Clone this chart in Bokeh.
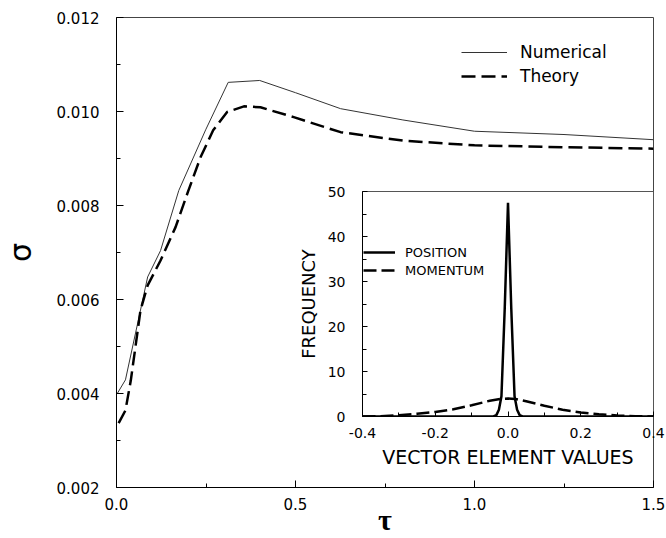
from bokeh.plotting import figure
from bokeh.models import Range1d, FixedTicker, PrintfTickFormatter, Legend
from bokeh.embed import file_html
from bokeh.resources import INLINE

# ---- main chart data ----
tau_num = [0.003, 0.025, 0.087, 0.123, 0.174, 0.249, 0.312, 0.40, 0.50, 0.626, 0.80, 1.0, 1.25, 1.5]
sigma_num = [0.00401, 0.00429, 0.00648, 0.00704, 0.00832, 0.00961, 0.01062, 0.01066, 0.0104,
             0.01006, 0.00982, 0.00958, 0.00951, 0.0094]
tau_th = [0.006, 0.025, 0.04, 0.067, 0.087, 0.123, 0.165, 0.2, 0.235, 0.27, 0.309, 0.356,
          0.402, 0.495, 0.626, 0.8, 1.0, 1.25, 1.5]
sigma_th = [0.00337, 0.00364, 0.00428, 0.00577, 0.0063, 0.00683, 0.00754, 0.0083, 0.00903,
            0.0096, 0.00999, 0.01011, 0.01009, 0.00988, 0.00956, 0.00938, 0.00928, 0.00924, 0.00921]
main_x_ticks = [0.0, 0.5, 1.0, 1.5]
main_x_minor = [0.25, 0.75, 1.25]
main_y_ticks = [0.002, 0.004, 0.006, 0.008, 0.010, 0.012]
main_y_minor = [0.003, 0.005, 0.007, 0.009, 0.011]

# ---- inset data ----
pos_x = [-0.4, -0.04, -0.032, -0.025, -0.018, -0.009, 0.0, 0.009, 0.018, 0.025, 0.032, 0.04, 0.4]
pos_freq = [0, 0, 0.3, 1.5, 4.5, 24, 47.5, 24, 4.5, 1.5, 0.3, 0, 0]
mom_x = [-0.4, -0.35, -0.3, -0.25, -0.2, -0.15, -0.1, -0.05, -0.02, 0.0, 0.02, 0.05, 0.1,
         0.15, 0.2, 0.25, 0.3, 0.35, 0.4]
mom_freq = [0, 0.05, 0.3, 0.6, 1.0, 1.6, 2.5, 3.5, 3.9, 4.0, 3.9, 3.4, 2.4, 1.5, 0.9, 0.5,
            0.25, 0.05, 0]
inset_x_ticks = [-0.4, -0.2, 0.0, 0.2, 0.4]
inset_x_minor = [-0.3, -0.1, 0.1, 0.3]
inset_y_ticks = [0, 10, 20, 30, 40, 50]
inset_y_minor = [5, 15, 25, 35, 45]

FONT = "DejaVu Sans"


def style_axes(fig, tick_size, maj_in, min_in):
    for ax in (fig.xaxis[0], fig.yaxis[0]):
        ax.major_tick_in = maj_in
        ax.major_tick_out = 0
        ax.minor_tick_in = min_in
        ax.minor_tick_out = 0
        ax.axis_line_color = "black"
        ax.major_tick_line_color = "black"
        ax.minor_tick_line_color = "black"
        ax.major_label_text_font = FONT
        ax.major_label_text_font_size = tick_size
        ax.major_label_text_color = "black"
        ax.axis_label_text_color = "black"
        ax.axis_label_text_font_style = "normal"
    fig.xgrid.visible = False
    fig.ygrid.visible = False


# ---------------- main figure ----------------
p = figure(width=672, height=530, x_range=Range1d(0, 1.5), y_range=Range1d(0.002, 0.012),
           output_backend="svg", toolbar_location=None,
           min_border_left=122, min_border_right=13, min_border_top=9, min_border_bottom=51)
p.outline_line_color = "#444444"
style_axes(p, "15px", 7, 4)
p.xaxis.ticker = FixedTicker(ticks=main_x_ticks, minor_ticks=main_x_minor)
p.yaxis.ticker = FixedTicker(ticks=main_y_ticks, minor_ticks=main_y_minor)
p.xaxis.formatter = PrintfTickFormatter(format="%.1f")
p.yaxis.formatter = PrintfTickFormatter(format="%.3f")
p.xaxis.major_label_standoff = 10
p.yaxis.major_label_standoff = 17

p.yaxis.axis_label = "σ"
p.yaxis.axis_label_text_font = FONT
p.yaxis.axis_label_text_font_size = "30px"
p.yaxis.axis_label_standoff = 16
p.xaxis.axis_label = "τ"
p.xaxis.axis_label_text_font = "Liberation Serif"
p.xaxis.axis_label_text_font_size = "30px"
p.xaxis.axis_label_text_font_style = "bold"
p.xaxis.axis_label_standoff = -10

r_num = p.line(tau_num, sigma_num, line_color="#333333", line_width=1)
r_th = p.line(tau_th, sigma_th, line_color="black", line_width=2.5, line_dash="14 6")

leg = Legend(items=[("Numerical", [r_num]), ("Theory", [r_th])], location=(345, 401),
             border_line_color=None, background_fill_alpha=0, padding=0, spacing=4,
             glyph_width=46, glyph_height=20, label_height=20, label_standoff=13,
             label_text_font=FONT, label_text_font_size="17px", label_text_color="black",
             margin=0)
p.add_layout(leg)

# ---------------- inset figure ----------------
q = figure(width=374, height=291, x_range=Range1d(-0.4, 0.4), y_range=Range1d(0, 50),
           output_backend="svg", toolbar_location=None,
           min_border_left=70, min_border_right=13, min_border_top=10, min_border_bottom=56)
q.background_fill_alpha = 0
q.border_fill_alpha = 0
q.outline_line_color = "#555555"
style_axes(q, "14px", 5, 4)
q.xaxis.ticker = FixedTicker(ticks=inset_x_ticks, minor_ticks=inset_x_minor)
q.yaxis.ticker = FixedTicker(ticks=inset_y_ticks, minor_ticks=inset_y_minor)
q.xaxis.formatter = PrintfTickFormatter(format="%.1f")
q.yaxis.formatter = PrintfTickFormatter(format="%d")
q.xaxis.major_label_standoff = 11
q.yaxis.major_label_standoff = 17
q.xaxis.axis_label = "VECTOR ELEMENT VALUES"
q.yaxis.axis_label = "FREQUENCY"
q.xaxis.axis_label_text_font = FONT
q.xaxis.axis_label_text_font_size = "19px"
q.yaxis.axis_label_text_font = FONT
q.yaxis.axis_label_text_font_size = "18px"
q.xaxis.axis_label_standoff = 5
q.yaxis.axis_label_standoff = 6

r_pos = q.line(pos_x, pos_freq, line_color="black", line_width=2.5)
r_mom = q.line(mom_x, mom_freq, line_color="black", line_width=2.5, line_dash="13 5")

leg2 = Legend(items=[("POSITION", [r_pos]), ("MOMENTUM", [r_mom])], location=(1, 138),
              border_line_color=None, background_fill_alpha=0, padding=0, spacing=2,
              glyph_width=32, glyph_height=16, label_height=16, label_standoff=10,
              label_text_font=FONT, label_text_font_size="13px", label_text_color="black",
              margin=0)
q.add_layout(leg2)

# place both figures at fixed page positions (inset overlays the main chart)
p.styles = {"position": "absolute", "left": "-6px", "top": "8px"}
q.styles = {"position": "absolute", "left": "292px", "top": "181px"}

open("out.html", "w").write(file_html([p, q], INLINE))
